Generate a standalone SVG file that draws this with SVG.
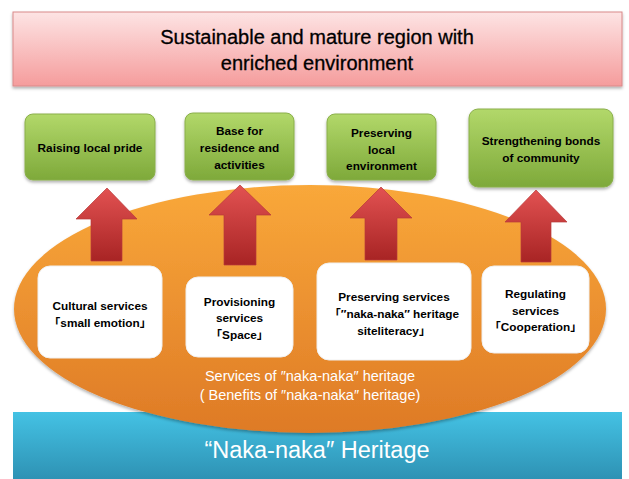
<svg xmlns="http://www.w3.org/2000/svg" width="629" height="479" viewBox="0 0 629 479">
<defs>
<linearGradient id="gPink" x1="0" y1="0" x2="0" y2="1"><stop offset="0" stop-color="#FDE4E4"/><stop offset="1" stop-color="#F59C9C"/></linearGradient>
<linearGradient id="gGreen" x1="0" y1="0" x2="0" y2="1"><stop offset="0" stop-color="#B2D86A"/><stop offset="1" stop-color="#7EA93A"/></linearGradient>
<linearGradient id="gOrange" x1="0" y1="0" x2="0" y2="1"><stop offset="0" stop-color="#F9A83A"/><stop offset="1" stop-color="#DE7A26"/></linearGradient>
<linearGradient id="gBlue" x1="0" y1="0" x2="0" y2="1"><stop offset="0" stop-color="#44C2E4"/><stop offset="1" stop-color="#2E92B4"/></linearGradient>
<linearGradient id="gRed" x1="0" y1="0" x2="0" y2="1"><stop offset="0" stop-color="#E25252"/><stop offset="1" stop-color="#A82424"/></linearGradient>
<filter id="sh" x="-10%" y="-10%" width="120%" height="130%"><feDropShadow dx="0" dy="2" stdDeviation="1.5" flood-color="#000" flood-opacity="0.3"/></filter>
</defs>
<style>
.lbl{font-family:"Liberation Sans","Noto Sans CJK JP",sans-serif;font-weight:bold;font-size:11.8px;fill:#000;text-anchor:middle}
.title{font-family:"Liberation Sans","Noto Sans CJK JP",sans-serif;font-size:20px;fill:#000;stroke:#000;stroke-width:0.3;text-anchor:middle}
.wt{font-family:"Liberation Sans","Noto Sans CJK JP",sans-serif;fill:#fff;text-anchor:middle}
.green{fill:url(#gGreen);stroke:#8AAF4A;stroke-width:1;filter:url(#sh)}
.white{fill:#fff;stroke:#F0F0F0;stroke-width:1}
.arrow{fill:url(#gRed);stroke:#B83A3A;stroke-width:0.7}
</style>

<g id="goal">
<rect x="13" y="12" width="609" height="74" fill="url(#gPink)" stroke="#D98A8A" stroke-width="1" filter="url(#sh)"/>
<text class="title" x="317" y="44">Sustainable and mature region with</text>
<text class="title" x="317" y="70">enriched environment</text>
</g>

<g id="heritage">
<rect x="13" y="412" width="609" height="67" fill="url(#gBlue)"/>
<text class="wt" x="317" y="458" font-size="23.5">“Naka-naka″ Heritage</text>
</g>

<g id="services">
<ellipse cx="310" cy="309" rx="296" ry="124" fill="url(#gOrange)" filter="url(#sh)"/>
<text class="wt" x="310" y="381" font-size="14.5">Services of ″naka-naka″ heritage</text>
<text class="wt" x="310" y="400" font-size="14.5">( Benefits of ″naka-naka″ heritage)</text>
</g>

<g id="pride">
<rect class="green" x="25" y="114" width="130" height="66" rx="8"/>
<text class="lbl" x="90" y="152">Raising local pride</text>
</g>
<g id="base">
<rect class="green" x="185" y="113" width="109" height="67" rx="8"/>
<text class="lbl" x="239.5" y="135">Base for</text>
<text class="lbl" x="239.5" y="152">residence and</text>
<text class="lbl" x="239.5" y="169">activities</text>
</g>
<g id="preserve-env">
<rect class="green" x="327" y="114" width="109" height="66" rx="8"/>
<text class="lbl" x="381.5" y="137">Preserving</text>
<text class="lbl" x="381.5" y="154">local</text>
<text class="lbl" x="381.5" y="170">environment</text>
</g>
<g id="bonds">
<rect class="green" x="469" y="109" width="144" height="78" rx="9"/>
<text class="lbl" x="541" y="145">Strengthening bonds</text>
<text class="lbl" x="541" y="162">of community</text>
</g>

<g id="connectors">
<polygon class="arrow" points="107,188 137,219 122,219 122,261 91,261 91,219 76,219"/>
<polygon class="arrow" points="240,185 271,215 256,215 256,265 224,265 224,215 209,215"/>
<polygon class="arrow" points="381,187 412,218 397,218 397,260 365,260 365,218 350,218"/>
<polygon class="arrow" points="536,190 567,222 551,222 551,262 521,262 521,222 505,222"/>
</g>

<g id="cultural">
<rect class="white" x="38" y="266" width="124" height="92" rx="12"/>
<text class="lbl" x="100" y="310">Cultural services</text>
<text class="lbl" x="100" y="327">「small emotion」</text>
</g>
<g id="provisioning">
<rect class="white" x="186" y="277" width="107" height="80" rx="12"/>
<text class="lbl" x="239.5" y="306">Provisioning</text>
<text class="lbl" x="239.5" y="322">services</text>
<text class="lbl" x="239.5" y="339">「Space」</text>
</g>
<g id="preserving">
<rect class="white" x="317" y="263" width="154" height="97" rx="12"/>
<text class="lbl" x="394" y="301">Preserving services</text>
<text class="lbl" x="394" y="318">「″naka-naka″ heritage</text>
<text class="lbl" x="394" y="335">siteliteracy」</text>
</g>
<g id="regulating">
<rect class="white" x="482" y="266" width="107" height="87" rx="12"/>
<text class="lbl" x="535.5" y="298">Regulating</text>
<text class="lbl" x="535.5" y="315">services</text>
<text class="lbl" x="535.5" y="331">「Cooperation」</text>
</g>
</svg>
